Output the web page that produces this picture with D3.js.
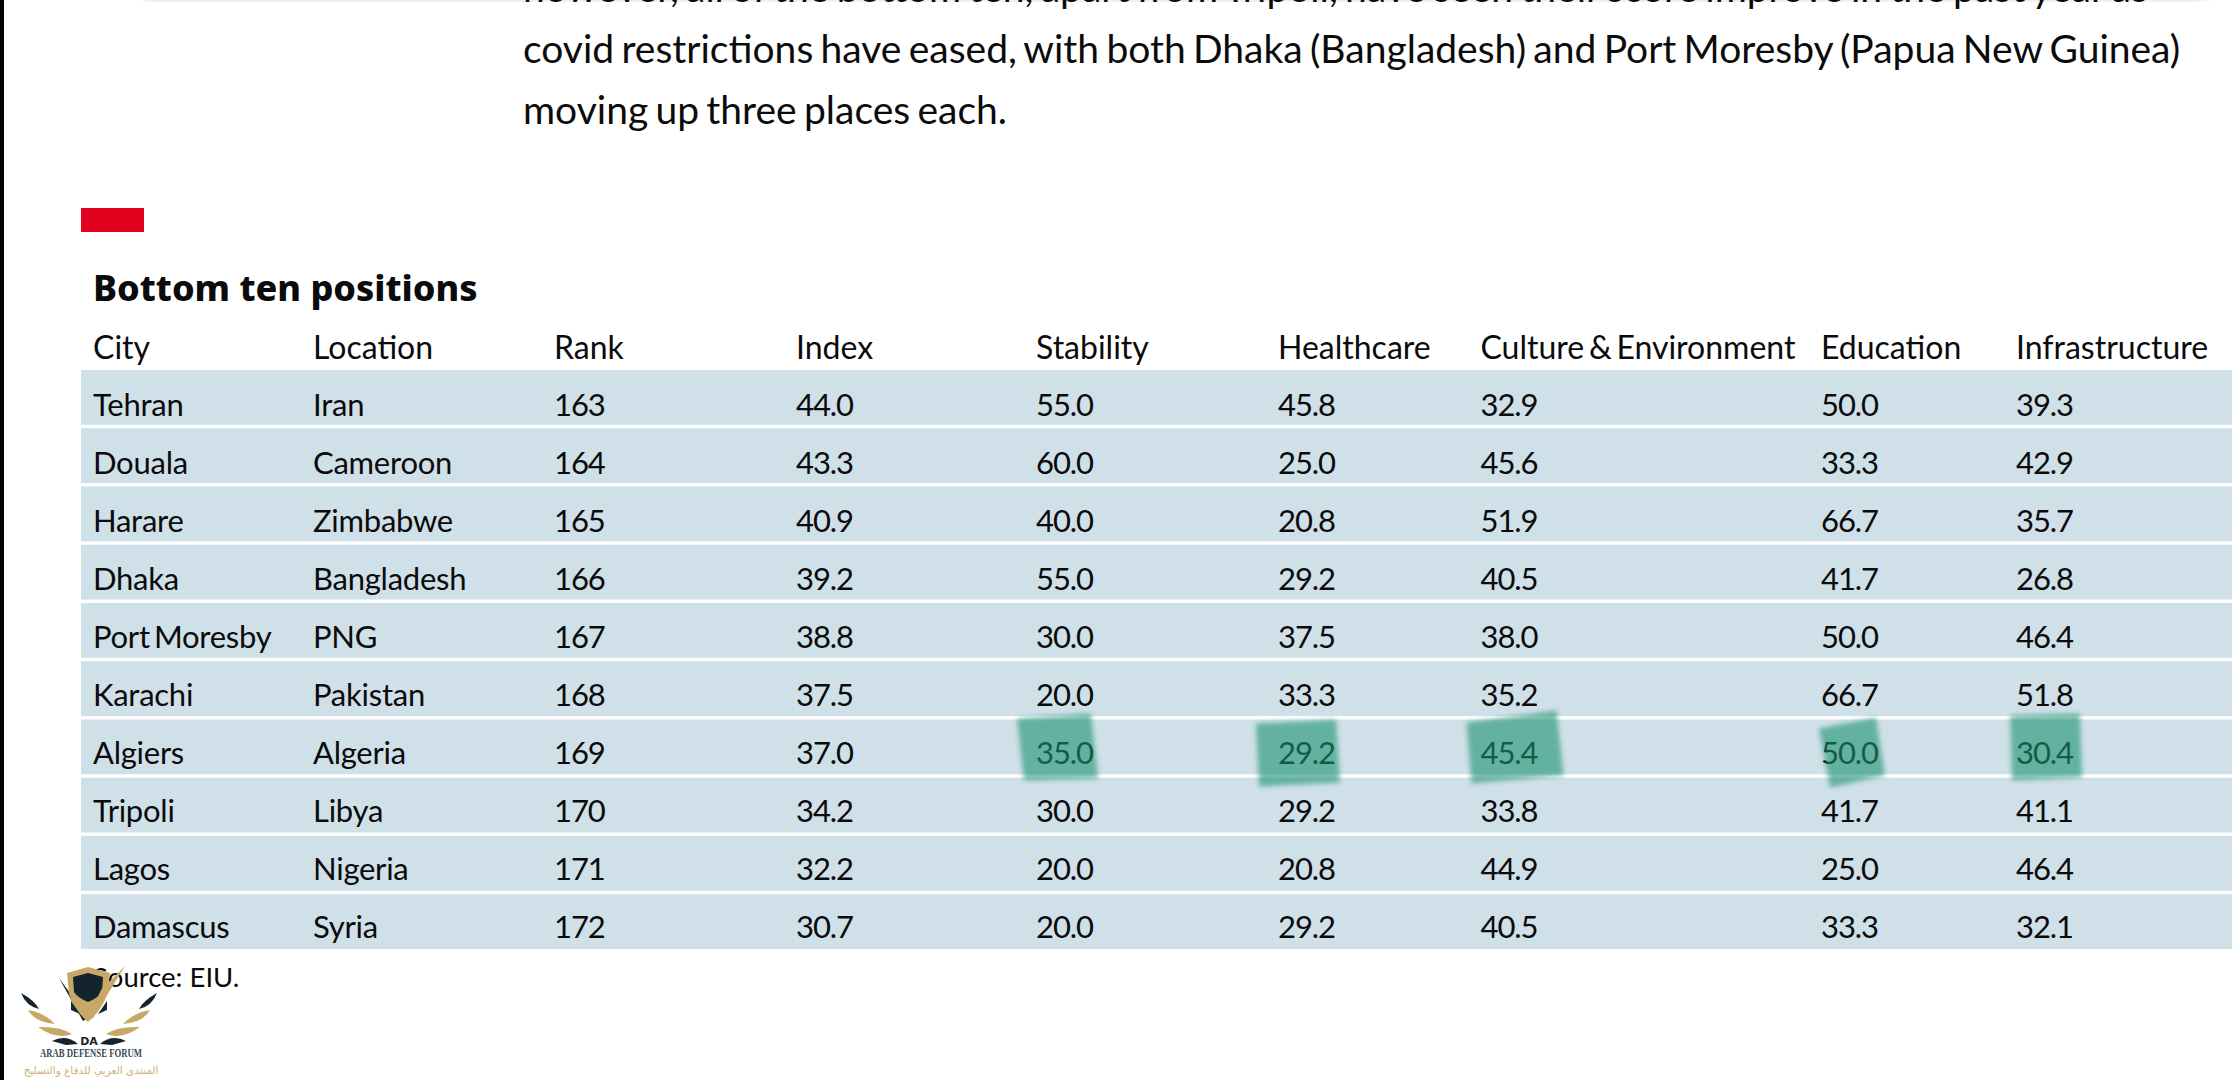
<!DOCTYPE html>
<html>
<head>
<meta charset="utf-8">
<script src="https://cdn.jsdelivr.net/npm/d3@7"></script>
<style>
  html, body { margin: 0; padding: 0; background: #fff; overflow: hidden; }
  text { font-family: "Lato", sans-serif; fill: #0b0b0b; }
</style>
</head>
<body>
<div id="D3table"></div>
<script>
var width = 2240;
var height = 1080;

var columns = ["City", "Location", "Rank", "Index", "Stability", "Healthcare", "Culture & Environment", "Education", "Infrastructure"];
var columnX = [93, 313, 554, 796, 1036, 1278, 1480.5, 1821, 2016];

var rows = [
    ["Tehran", "Iran", "163", "44.0", "55.0", "45.8", "32.9", "50.0", "39.3"],
    ["Douala", "Cameroon", "164", "43.3", "60.0", "25.0", "45.6", "33.3", "42.9"],
    ["Harare", "Zimbabwe", "165", "40.9", "40.0", "20.8", "51.9", "66.7", "35.7"],
    ["Dhaka", "Bangladesh", "166", "39.2", "55.0", "29.2", "40.5", "41.7", "26.8"],
    ["Port Moresby", "PNG", "167", "38.8", "30.0", "37.5", "38.0", "50.0", "46.4"],
    ["Karachi", "Pakistan", "168", "37.5", "20.0", "33.3", "35.2", "66.7", "51.8"],
    ["Algiers", "Algeria", "169", "37.0", "35.0", "29.2", "45.4", "50.0", "30.4"],
    ["Tripoli", "Libya", "170", "34.2", "30.0", "29.2", "33.8", "41.7", "41.1"],
    ["Lagos", "Nigeria", "171", "32.2", "20.0", "20.8", "44.9", "25.0", "46.4"],
    ["Damascus", "Syria", "172", "30.7", "20.0", "29.2", "40.5", "33.3", "32.1"]
];

// marker strokes over the Algiers row, offsets from the cell corner
var highlights = [
    { col: "Stability", pts: [[-19, -1], [55, -6], [62, 59], [-12, 61]] },
    { col: "Healthcare", pts: [[-22, 4], [58, 0], [62, 63], [-19, 67]] },
    { col: "Culture & Environment", pts: [[-14, 3], [76, -9], [83, 56], [-9, 64]] },
    { col: "Education", pts: [[-2, 9], [55, -2], [64, 56], [9, 68]] },
    { col: "Infrastructure", pts: [[-6, -4], [64, -6], [66, 58], [-4, 61]] }
];

var paragraph = [
    { text: "however, all of the bottom ten, apart from Tripoli, have seen their score improve in the past year as", y: 2 },
    { text: "covid restrictions have eased, with both Dhaka (Bangladesh) and Port Moresby (Papua New Guinea)", y: 63 },
    { text: "moving up three places each.", y: 124 }
];

var x = d3.scaleOrdinal().domain(columns).range(columnX);
var y = d3.scaleBand()
    .domain(rows.map(function(d) { return d[0]; }))
    .range([370, 949])
    .paddingInner(0.06)
    .paddingOuter(0)
    .align(0);
// text baselines run on a slightly tighter pitch than the bands
var baseline = d3.scalePoint()
    .domain(rows.map(function(d) { return d[0]; }))
    .range([416, 938]);

var svg = d3.select("#D3table")
    .append("svg")
    .attr("width", width)
    .attr("height", height);

var defs = svg.append("defs");
defs.append("filter").attr("id", "soft")
    .append("feGaussianBlur").attr("stdDeviation", 2.5);
defs.append("filter").attr("id", "faintblur")
    .append("feGaussianBlur").attr("stdDeviation", 1.5);
defs.append("filter").attr("id", "shadow")
    .append("feGaussianBlur").attr("stdDeviation", 5);

// page edge and the shadow of the box above
svg.append("rect").attr("x", 0).attr("y", 0).attr("width", 4).attr("height", height).attr("fill", "#000");
svg.append("rect").attr("x", 145).attr("y", -14).attr("width", 2060).attr("height", 14)
    .attr("fill", "#000").attr("opacity", 0.14).attr("filter", "url(#shadow)");

svg.selectAll(".para")
    .data(paragraph)
    .enter().append("text")
    .attr("class", "para")
    .attr("x", 523)
    .attr("y", function(d) { return d.y; })
    .style("font-size", "39px")
    .style("word-spacing", "-2.7px")
    .text(function(d) { return d.text; });

svg.append("rect").attr("x", 81).attr("y", 208).attr("width", 63).attr("height", 24).attr("fill", "#e2001f");

svg.append("text")
    .attr("x", 93)
    .attr("y", 301)
    .style("font-family", "'Noto Sans'")
    .style("font-size", "36px")
    .style("font-weight", 800)
    .text("Bottom ten positions");

svg.selectAll(".head")
    .data(columns)
    .enter().append("text")
    .attr("class", "head")
    .attr("x", function(d) { return x(d); })
    .attr("y", 359)
    .style("font-size", "32px")
    .style("word-spacing", "-3.5px")
    .text(function(d) { return d; });

svg.selectAll(".band")
    .data(rows)
    .enter().append("rect")
    .attr("class", "band")
    .attr("x", 81)
    .attr("y", function(d) { return y(d[0]); })
    .attr("width", 2232 - 81)
    .attr("height", y.bandwidth())
    .attr("fill", "#d0e0e9");

var row = svg.selectAll(".row")
    .data(rows)
    .enter().append("g")
    .attr("class", "row")
    .attr("transform", function(d) { return "translate(0," + baseline(d[0]) + ")"; });

row.selectAll("text")
    .data(function(d) { return d; })
    .enter().append("text")
    .attr("x", function(d, i) { return columnX[i]; })
    .style("font-size", "31px")
    .style("word-spacing", "-3.5px")
    .style("letter-spacing", function(d, i) { return i < 2 ? "-0.25px" : "-1.1px"; })
    .text(function(d) { return d; });

// green marker
svg.selectAll(".mark")
    .data(highlights)
    .enter().append("polygon")
    .attr("class", "mark")
    .attr("points", function(d) {
        return d.pts.map(function(p) { return [x(d.col) + p[0], y("Algiers") + p[1]].join(","); }).join(" ");
    })
    .attr("fill", "#1a9270")
    .attr("opacity", 0.6)
    .attr("filter", "url(#soft)");

// faint marker strokes near Harare/Dhaka
svg.selectAll(".faint")
    .data([["Culture & Environment", "Harare", 176, 27, 80], ["Education", "Harare", 26, 49, 85]])
    .enter().append("line")
    .attr("class", "faint")
    .attr("x1", function(d) { return x(d[0]) + d[2]; })
    .attr("x2", function(d) { return x(d[0]) + d[2]; })
    .attr("y1", function(d) { return y(d[1]) + d[3]; })
    .attr("y2", function(d) { return y(d[1]) + d[4]; })
    .attr("stroke", "#1a9270")
    .attr("stroke-width", 11)
    .attr("stroke-linecap", "round")
    .attr("opacity", 0.14)
    .attr("filter", "url(#faintblur)");

svg.append("text")
    .attr("x", 93)
    .attr("y", 987)
    .style("font-size", "27.5px")
    .text("Source: EIU.");

// forum watermark
var logo = svg.append("g");
var gold = "#c8a866";
var navy = "#14232e";
var shapes = [
    ["M59 978 L88 1018 L83 1021 Z", navy],
    ["M88 967 L67 973 L69 994 Q74 1010 88 1022 Q102 1010 107 994 L110 973 Z", gold],
    ["M88 973 L73 977 L74 992 Q78 998 88 1002 Q98 998 102 992 L103 977 Z", navy],
    ["M125 966 L93 1018 L87 1020 L101 990 Z", gold],
    ["M71 1001 L80 1014 L71 1010 Z", navy],
    ["M107 1001 L98 1014 L107 1010 Z", navy],
    ["M21 993 Q26 1006 39 1009 Q34 1000 21 993 Z", navy],
    ["M28 1010 Q34 1022 55 1024 Q45 1013 28 1010 Z", gold],
    ["M38 1027 Q56 1040 72 1034 Q60 1026 38 1027 Z", gold],
    ["M52 1041 Q66 1034 78 1044 L66 1045 Z", navy],
    ["M157 993 Q152 1006 139 1009 Q144 1000 157 993 Z", navy],
    ["M150 1010 Q144 1022 123 1024 Q133 1013 150 1010 Z", gold],
    ["M140 1027 Q122 1040 106 1034 Q118 1026 140 1027 Z", gold],
    ["M126 1041 Q112 1034 100 1044 L112 1045 Z", navy]
];
logo.selectAll("path")
    .data(shapes)
    .enter().append("path")
    .attr("d", function(d) { return d[0]; })
    .attr("fill", function(d) { return d[1]; });
logo.append("text").attr("x", 89).attr("y", 1045).attr("text-anchor", "middle")
    .style("font-family", "'DejaVu Sans'").style("font-weight", 700).style("font-size", "11px").style("fill", navy).text("DA");
logo.append("text").attr("x", 40).attr("y", 1057)
    .attr("textLength", 102).attr("lengthAdjust", "spacingAndGlyphs")
    .style("font-family", "'Liberation Serif'").style("font-weight", 700).style("font-size", "11.5px").style("fill", "#3a4a55").text("ARAB DEFENSE FORUM");
logo.append("text").attr("x", 91).attr("y", 1074).attr("text-anchor", "middle")
    .attr("direction", "rtl")
    .style("font-family", "'DejaVu Sans'").style("font-size", "10.5px").style("fill", "#cdb27a").text("المنتدى العربي للدفاع والتسليح");
</script>
</body>
</html>
